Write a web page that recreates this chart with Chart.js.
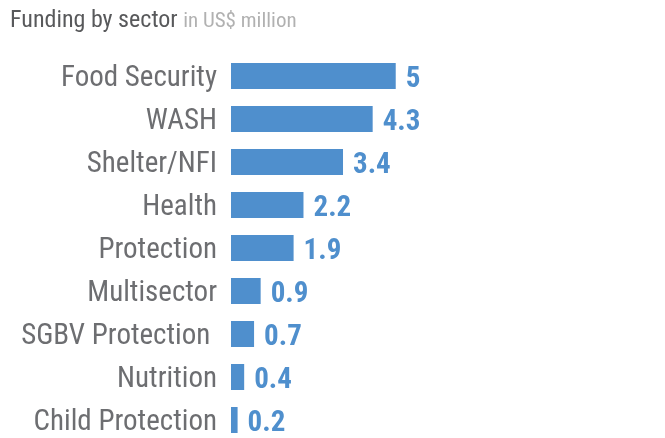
<!DOCTYPE html>
<html>
<head>
<meta charset="utf-8">
<script src="https://cdn.jsdelivr.net/npm/chart.js@4.4.1/dist/chart.umd.min.js"></script>
<style>
  html, body { margin: 0; padding: 0; background: #fff; overflow: hidden; }
  #wrap { position: relative; width: 665px; height: 438px; overflow: hidden; }
  #title {
    position: absolute; left: 10px; top: 4px; white-space: nowrap;
    font-family: 'Roboto Condensed', 'Liberation Sans Narrow', Roboto, sans-serif;
    font-size: 24px; line-height: 30px; color: #58595b;
  }
  #title span { font-size: 21px; color: #b1b1b1; }
  #sectorChart { position: absolute; left: 0; top: 0; }
</style>
</head>
<body>
<div id="wrap">
  <canvas id="sectorChart" width="665" height="473"></canvas>
  <div id="title">Funding by sector <span>in US$ million</span></div>
</div>
<script>
const FONT = "'Roboto Condensed', 'Liberation Sans Narrow', Roboto, sans-serif";

const sectors = ["Food Security", "WASH", "Shelter/NFI", "Health", "Protection",
                 "Multisector", "SGBV Protection ", "Nutrition", "Child Protection"];
const funding = [5, 4.3, 3.4, 2.2, 1.9, 0.9, 0.7, 0.4, 0.2];

const barColor = "#4f8fcd";

// nudge the category labels down a little so caps sit centred on the bars
const labelNudge = {
    id: "labelNudge",
    beforeDraw(chart) {
        chart.scales.y.getLabelItems().forEach((item) => {
            if (!item._nudged) {
                item.options.translation[1] += 3;
                item._nudged = true;
            }
        });
    }
};

// value labels at the end of each bar
const valueLabels = {
    id: "valueLabels",
    afterDatasetsDraw(chart) {
        const ctx = chart.ctx;
        const meta = chart.getDatasetMeta(0);
        ctx.save();
        ctx.font = "bold 29px " + FONT;
        ctx.fillStyle = barColor;
        ctx.textAlign = "left";
        ctx.textBaseline = "middle";
        meta.data.forEach((bar, i) => {
            ctx.fillText(String(funding[i]), bar.x + 10, bar.y + 4);
        });
        ctx.restore();
    }
};

const ctx = document.getElementById("sectorChart").getContext("2d");
new Chart(ctx, {
    type: "bar",
    data: {
        labels: sectors,
        datasets: [{
            label: "Funding",
            data: funding,
            backgroundColor: barColor,
            borderWidth: 0,
            categoryPercentage: 1,
            barPercentage: 0.605,
        }],
    },
    options: {
        indexAxis: "y",
        responsive: false,
        animation: false,
        devicePixelRatio: 1,
        layout: { padding: { top: 54.5, bottom: 4.5, left: 0, right: 9 } },
        plugins: {
            legend: { display: false },
            tooltip: { enabled: false },
        },
        scales: {
            x: {
                display: false,
                min: 0,
                max: 12.9,
            },
            y: {
                grid: { display: false, drawTicks: false },
                border: { display: false },
                ticks: {
                    color: "#6d6e71",
                    padding: 14,
                    font: { family: FONT, size: 29 },
                },
                afterFit: function (scale) {
                    scale.width = 231;
                },
            },
        },
    },
    plugins: [labelNudge, valueLabels],
});
</script>
</body>
</html>
